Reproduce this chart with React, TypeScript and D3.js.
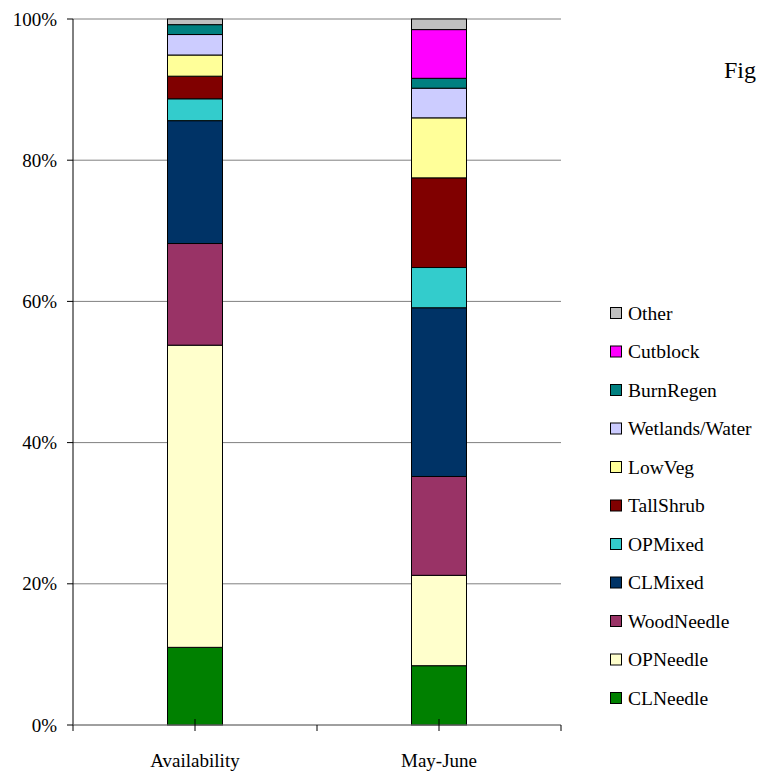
import React, { useEffect } from "react";
import * as d3 from "d3";

// Habitat classes, bottom of the stack first
const habitats = [
  "CLNeedle",
  "OPNeedle",
  "WoodNeedle",
  "CLMixed",
  "OPMixed",
  "TallShrub",
  "LowVeg",
  "Wetlands/Water",
  "BurnRegen",
  "Cutblock",
  "Other",
];

const habitatColors = [
  "#008000",
  "#FFFFCC",
  "#993366",
  "#003366",
  "#33CCCC",
  "#800000",
  "#FFFF99",
  "#CCCCFF",
  "#008080",
  "#FF00FF",
  "#C0C0C0",
];

const categories = ["Availability", "May-June"];

// Percent of each habitat class, same order as habitats
const availabilityValues = [11.0, 42.8, 14.4, 17.4, 3.1, 3.2, 3.0, 2.9, 1.4, 0, 0.8];
const mayJuneValues = [8.4, 12.8, 14.0, 23.9, 5.7, 12.7, 8.5, 4.2, 1.4, 6.9, 1.5];

const yTicks = [0, 0.2, 0.4, 0.6, 0.8, 1.0];

const W = 760;
const H = 774;
const left = 73;
const right = 561;
const top = 19;
const bottom = 725;
const font = "Liberation Serif, DejaVu Serif, serif";

export default function App() {
  useEffect(() => {
    document.body.style.margin = "0";
  }, []);

  const rows = categories.map((c, i) => {
    const vals = i === 0 ? availabilityValues : mayJuneValues;
    const row: Record<string, any> = { category: c };
    habitats.forEach((h, j) => (row[h] = vals[j]));
    return row;
  });

  const series = d3
    .stack<any>()
    .keys(habitats)
    .offset(d3.stackOffsetExpand)(rows);

  const x = d3
    .scaleBand<string>()
    .domain(categories)
    .range([left, right])
    .paddingInner(0.7746)
    .paddingOuter(0.3873);

  const y = d3.scaleLinear().domain([0, 1]).range([bottom, top]);
  const step = x.step();
  const boundaries = [0, 1, 2].map((k) => left + k * step);

  const legendItems = habitats.map((h, i) => ({ h, c: habitatColors[i] })).reverse();
  const legendY = d3
    .scalePoint<string>()
    .domain(legendItems.map((d) => d.h))
    .range([313, 698]);

  return (
    <svg width={W} height={H} style={{ display: "block", background: "#fff" }}>
      {/* gridlines */}
      {yTicks.map((t) => (
        <line key={"g" + t} x1={left} x2={right} y1={y(t)} y2={y(t)} stroke="#808080" strokeWidth={1} />
      ))}

      {/* stacked bars */}
      {series.map((s, si) =>
        s.map((d, di) => {
          const cat = categories[di];
          const h = y(d[0]) - y(d[1]);
          if (h <= 0) return null;
          return (
            <rect
              key={si + "-" + di}
              x={x(cat)}
              y={y(d[1])}
              width={x.bandwidth()}
              height={h}
              fill={habitatColors[si]}
              stroke="#000"
              strokeWidth={1}
            />
          );
        })
      )}

      {/* y axis */}
      <line x1={left} x2={left} y1={top} y2={bottom} stroke="#000" strokeWidth={1} />
      {yTicks.map((t) => (
        <g key={"t" + t}>
          <line x1={left - 6} x2={left} y1={y(t)} y2={y(t)} stroke="#000" />
          <text
            x={57}
            y={y(t)}
            dy="0.35em"
            textAnchor="end"
            fontFamily={font}
            fontSize={19}
            fill="#000"
          >
            {d3.format(".0%")(t)}
          </text>
        </g>
      ))}

      {/* x axis */}
      <line x1={left} x2={right} y1={bottom} y2={bottom} stroke="#808080" strokeWidth={1} />
      {boundaries.map((b) => (
        <line key={"b" + b} x1={b} x2={b} y1={bottom} y2={bottom + 6} stroke="#000" />
      ))}
      {categories.map((c) => {
        const cx = (x(c) as number) + x.bandwidth() / 2;
        return (
          <g key={c}>
            <line x1={cx} x2={cx} y1={bottom - 6} y2={bottom + 6} stroke="#000" />
            <text x={cx} y={767} textAnchor="middle" fontFamily={font} fontSize={19} fill="#000">
              {c}
            </text>
          </g>
        );
      })}

      {/* legend */}
      {legendItems.map((d) => {
        const cy = legendY(d.h) as number;
        return (
          <g key={d.h}>
            <rect x={610.5} y={cy - 5.5} width={11} height={11} fill={d.c} stroke="#000" strokeWidth={1} />
            <text x={628} y={cy} dy="0.35em" fontFamily={font} fontSize={19.5} fill="#000">
              {d.h}
            </text>
          </g>
        );
      })}

      <text x={724} y={78} fontFamily={font} fontSize={24} fill="#000">
        Fig
      </text>
    </svg>
  );
}
